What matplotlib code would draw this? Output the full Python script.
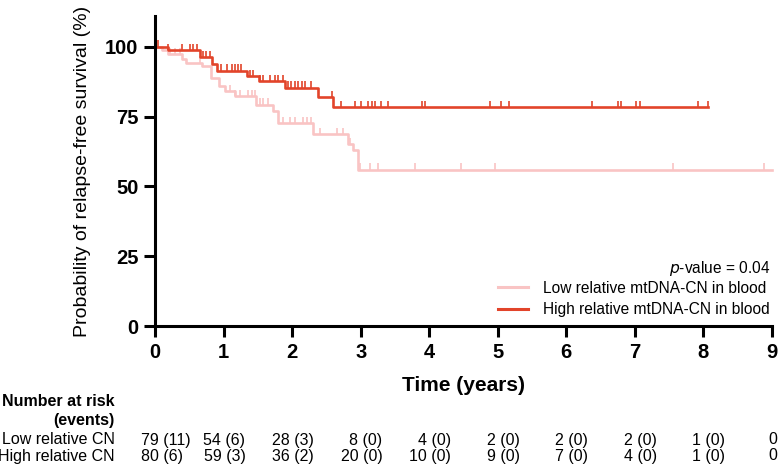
import numpy as np
import matplotlib
matplotlib.use("Agg")
import matplotlib.pyplot as plt
import matplotlib.transforms as mtransforms

plt.rcParams['font.family'] = ['Liberation Sans', 'DejaVu Sans']

# Kaplan-Meier steps (time in years, survival in %)
high_t = [0, 0.19, 0.66, 0.83, 0.90, 1.34, 1.51, 1.90, 2.38, 2.60]
high_s = [100, 98.8, 96.2, 93.8, 91.4, 89.4, 87.6, 85.3, 81.9, 78.3]
high_end = 8.07
high_cens = [0.05, 0.19, 0.39, 0.51, 0.56, 0.61, 0.70, 0.75, 0.80, 0.97, 1.05, 1.12,
             1.17, 1.21, 1.26, 1.38, 1.43, 1.53, 1.58, 1.68, 1.75, 1.80, 1.87, 1.94,
             1.99, 2.04, 2.09, 2.14, 2.19, 2.28, 2.58, 2.72, 2.92, 3.01, 3.11, 3.16,
             3.21, 3.30, 3.40, 3.89, 3.94, 4.89, 5.05, 5.17, 6.38, 6.75, 6.80, 7.02,
             7.07, 7.92, 8.07]

low_t = [0, 0.10, 0.19, 0.40, 0.45, 0.68, 0.82, 0.94, 1.02, 1.16, 1.48, 1.72, 1.79,
         2.31, 2.82, 2.89, 2.96]
low_s = [100, 98.7, 97.4, 95.5, 94.2, 93.0, 88.8, 85.8, 84.0, 82.3, 79.3, 76.9, 72.7,
         68.6, 65.0, 63.0, 56.0]
low_end = 9.0
low_cens = [0.22, 0.29, 0.36, 0.66, 1.09, 1.17, 1.24, 1.36, 1.41, 1.46, 1.53, 1.58,
            1.65, 1.87, 1.97, 2.04, 2.16, 2.21, 2.28, 2.41, 2.65, 2.74, 2.84, 2.99,
            3.13, 3.26, 3.79, 4.47, 4.96, 7.55, 8.89]

risk_times = [0, 1, 2, 3, 4, 5, 6, 7, 8, 9]
low_risk = ["79 (11)", "54 (6)", "28 (3)", "8 (0)", "4 (0)", "2 (0)", "2 (0)", "2 (0)", "1 (0)", "0"]
high_risk = ["80 (6)", "59 (3)", "36 (2)", "20 (0)", "10 (0)", "9 (0)", "7 (0)", "4 (0)", "1 (0)", "0"]

low_label = "Low relative mtDNA-CN in blood"
high_label = "High relative mtDNA-CN in blood"
low_color = "#f9c4c4"
high_color = "#e2442a"

W, H = 778, 468
fig = plt.figure(figsize=(W / 100, H / 100), dpi=100)
ax = fig.add_axes([155 / W, (H - 326) / H, (772 - 155) / W, (326 - 16) / H])


def draw_km(t, s, end, cens, color, label):
    xs = list(t) + [end]
    ys = list(s) + [s[-1]]
    ax.step(xs, ys, where='post', color=color, lw=1.9, label=label, clip_on=False)
    idx = np.searchsorted(t, cens, side='right') - 1
    yc = np.array(s)[idx]
    ax.vlines(cens, yc, yc + 2.3, color=color, lw=1.2, clip_on=False)


draw_km(low_t, low_s, low_end, low_cens, low_color, low_label)
draw_km(high_t, high_s, high_end, high_cens, high_color, high_label)

ax.set_xlim(0, 9)
ax.set_ylim(0, 111)
ax.set_xticks(range(0, 10))
ax.set_yticks([0, 25, 50, 75, 100])
for side in ['top', 'right']:
    ax.spines[side].set_visible(False)
for side in ['left', 'bottom']:
    ax.spines[side].set_linewidth(2.2)
ax.tick_params(width=2.2, length=8, labelsize=14.5, pad=4)
for lab in ax.get_xticklabels() + ax.get_yticklabels():
    lab.set_fontweight('bold')

ax.set_xlabel("Time (years)", fontsize=15, fontweight='bold', labelpad=10)
ax.set_ylabel("Probability of relapse-free survival (%)", fontsize=14, labelpad=10)

leg = ax.legend(loc='lower right', bbox_to_anchor=(770 / W, (H - 317) / H),
                bbox_transform=fig.transFigure, frameon=False, fontsize=11.2,
                handlelength=1.9, handletextpad=1.0, labelspacing=0.4,
                borderaxespad=0, borderpad=0)
for line in leg.get_lines():
    line.set_linewidth(2.2)
fig.text(770 / W, 1 - 268 / H, r"$p$-value = 0.04", ha='right', va='center',
         fontsize=11.2)

# number at risk table
trans = mtransforms.blended_transform_factory(ax.transData, fig.transFigure)
lab_x = 115 / W
fs = 11.5
fig.text(lab_x, 1 - 402 / H, "Number at risk", ha='right', va='center',
         fontsize=fs, fontweight='bold')
fig.text(lab_x, 1 - 420 / H, "(events)", ha='right', va='center',
         fontsize=fs, fontweight='bold')
fig.text(lab_x, 1 - 440 / H, "Low relative CN", ha='right', va='center', fontsize=fs)
fig.text(lab_x, 1 - 456 / H, "High relative CN", ha='right', va='center', fontsize=fs)
for i, (t, a, b) in enumerate(zip(risk_times, low_risk, high_risk)):
    if i == 0:
        x, ha = t - 0.21, 'left'
    else:
        x, ha = min(t + 0.32, 9.07), 'right'
    fig.text(x, 1 - 440 / H, a, ha=ha, va='center', fontsize=fs, transform=trans)
    fig.text(x, 1 - 456 / H, b, ha=ha, va='center', fontsize=fs, transform=trans)

fig.savefig("out.png", dpi=100)
